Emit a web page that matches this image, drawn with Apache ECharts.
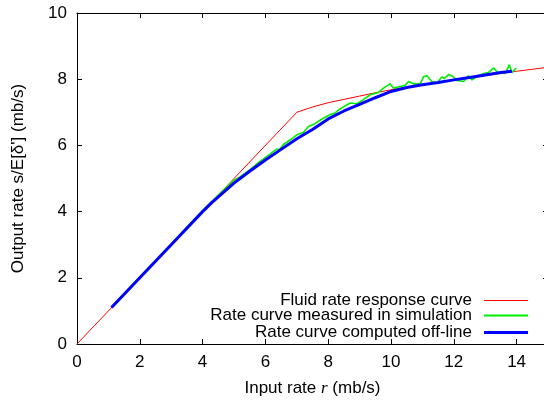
<!DOCTYPE html>
<html>
<head>
<meta charset="utf-8">
<script src="https://cdn.jsdelivr.net/npm/echarts@6/dist/echarts.min.js"></script>
<style>
  html, body { margin: 0; padding: 0; background: #fff; }
  #chart { width: 544px; height: 401px; }
</style>
</head>
<body>
<div id="chart"></div>
<script>
// fluid rate response curve
const redX = [0, 7, 7.5, 8, 8.5, 9, 9.5, 10, 11, 12, 13, 14, 15]
const redY = [0, 7, 7.16, 7.29, 7.39, 7.49, 7.59, 7.68, 7.84, 7.98, 8.11, 8.24, 8.36]

// measured in simulation
const greenX = [1.1, 2, 3, 4, 4.5, 5.0, 5.19, 5.51, 5.83, 6.05, 6.26, 6.36, 6.45, 6.57, 6.79, 7.0,
  7.21, 7.37, 7.53, 7.74, 7.96, 8.06, 8.22, 8.38, 8.55, 8.7, 8.91, 9.12, 9.34, 9.6, 9.76, 9.97,
  10.08, 10.29, 10.45, 10.56, 10.72, 10.93, 11.04, 11.15, 11.3, 11.46, 11.62, 11.7, 11.83, 11.95,
  12.1, 12.31, 12.47, 12.58, 12.74, 12.95, 13.1, 13.27, 13.4, 13.64, 13.77, 13.85, 13.99]
const greenY = [1.12, 2.02, 3.02, 4.03, 4.5, 4.95, 5.05, 5.27, 5.52, 5.67, 5.82, 5.89, 5.87, 6.02, 6.17, 6.32,
  6.39, 6.57, 6.63, 6.76, 6.88, 6.93, 6.98, 7.1, 7.2, 7.28, 7.26, 7.38, 7.53, 7.6, 7.73, 7.86,
  7.73, 7.78, 7.82, 7.93, 7.86, 7.86, 8.08, 8.1, 7.93, 7.88, 8.07, 8.02, 8.14, 8.1,
  7.96, 7.93, 8.1, 7.98, 8.08, 8.17, 8.2, 8.34, 8.2, 8.17, 8.44, 8.2, 8.34]

// computed off-line
const blueX = [1.1, 2, 3, 4, 4.3, 4.6, 5, 5.5, 6, 6.5, 7, 7.5, 8, 8.5, 9, 9.5, 10, 10.5, 11, 11.5, 12, 12.5, 13, 13.5, 13.85]
const blueY = [1.1, 2, 3, 4, 4.28, 4.53, 4.86, 5.22, 5.56, 5.88, 6.2, 6.48, 6.8, 7.04, 7.24, 7.44, 7.63, 7.75, 7.83, 7.9, 7.98, 8.05, 8.13, 8.2, 8.24]

const seriesNames = ['Fluid rate response curve', 'Rate curve measured in simulation', 'Rate curve computed off-line']
const seriesColors = ['#ff0000', '#00ee00', '#0000ff']
const xTicks = [0, 2, 4, 6, 8, 10, 12, 14]
const yTicks = [0, 2, 4, 6, 8, 10]

const pairs = (xs, ys) => xs.map((x, i) => [x, ys[i]])

const font = 'Liberation Sans, Arial, sans-serif'
const fs = 17
const chart = echarts.init(document.getElementById('chart'))

const axisCommon = {
  axisLine: { show: true, onZero: false, lineStyle: { color: '#000', width: 1 } },
  axisTick: { show: true, inside: true, length: 5, lineStyle: { color: '#000' } },
  splitLine: { show: false },
  axisLabel: { color: '#000', fontSize: fs, fontFamily: font, margin: 10 }
}

const legendBase = (idx, top, h) => ({
  data: [{ name: seriesNames[idx], icon: 'rect', itemStyle: { color: seriesColors[idx] } }],
  right: 16,
  top: top,
  align: 'right',
  itemWidth: 44,
  itemHeight: h,
  padding: 0,
  textStyle: { fontSize: fs, fontFamily: font, color: '#000', padding: [0, 7, 0, 0] },
  selectedMode: false
})

chart.setOption({
  animation: false,
  grid: { left: 77, right: -4, top: 13, bottom: 57, containLabel: false, outerBoundsMode: 'none' },
  legend: [
    legendBase(0, 292, 1),
    legendBase(1, 307, 2),
    legendBase(2, 324, 3)
  ],
  xAxis: [
    Object.assign({}, axisCommon, {
      type: 'value', min: 0, max: 15, interval: 2,
      axisLabel: Object.assign({}, axisCommon.axisLabel, {
        showMaxLabel: false,
        formatter: v => (xTicks.includes(v) ? String(v) : '')
      }),
      name: 'Input rate {i|r} (mb/s)',
      nameLocation: 'middle',
      nameGap: 36,
      nameTextStyle: {
        fontSize: fs, fontFamily: font, color: '#000',
        rich: { i: { fontStyle: 'italic', fontSize: fs, fontFamily: 'Liberation Serif, serif' } }
      }
    }),
    Object.assign({}, axisCommon, {
      type: 'value', min: 0, max: 15, interval: 2, position: 'top',
      axisLabel: { show: false }
    })
  ],
  yAxis: [
    Object.assign({}, axisCommon, {
      type: 'value', min: 0, max: 10, interval: 2,
      axisLabel: Object.assign({}, axisCommon.axisLabel, {
        formatter: v => (yTicks.includes(v) ? String(v) : '')
      }),
      name: "Output rate s/E[δ'] (mb/s)",
      nameLocation: 'middle',
      nameGap: 50,
      nameTextStyle: { fontSize: fs, fontFamily: font, color: '#000' }
    }),
    Object.assign({}, axisCommon, {
      type: 'value', min: 0, max: 10, interval: 2, position: 'right',
      axisLabel: { show: false }
    })
  ],
  series: [
    {
      name: seriesNames[0], type: 'line', symbol: 'none',
      lineStyle: { color: seriesColors[0], width: 1 }, itemStyle: { color: seriesColors[0] },
      data: pairs(redX, redY)
    },
    {
      name: seriesNames[1], type: 'line', symbol: 'none',
      lineStyle: { color: seriesColors[1], width: 1.6 }, itemStyle: { color: seriesColors[1] },
      data: pairs(greenX, greenY)
    },
    {
      name: seriesNames[2], type: 'line', symbol: 'none',
      lineStyle: { color: seriesColors[2], width: 3 }, itemStyle: { color: seriesColors[2] },
      data: pairs(blueX, blueY)
    }
  ]
})
</script>
</body>
</html>
